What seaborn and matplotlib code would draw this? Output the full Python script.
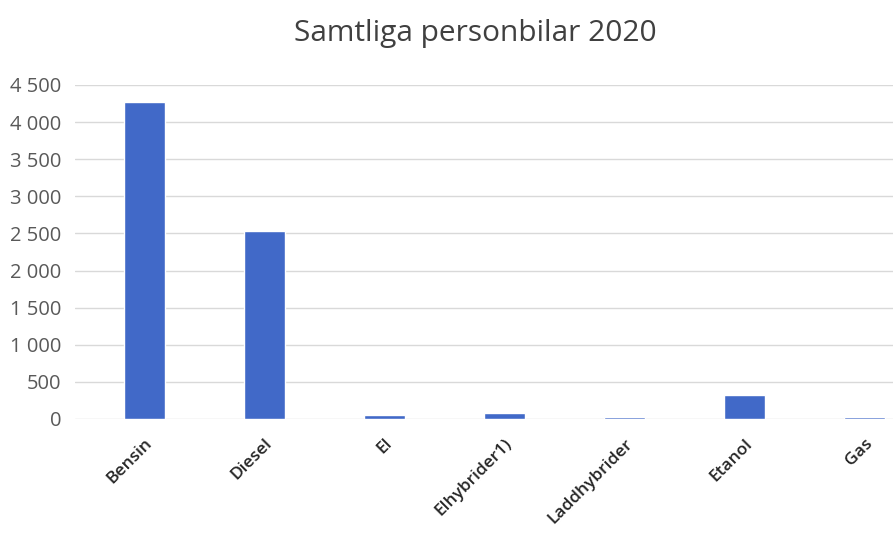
import matplotlib
matplotlib.use("Agg")
import matplotlib.pyplot as plt
import seaborn as sns
import pandas as pd
from matplotlib.ticker import FuncFormatter

categories = ["Bensin", "Diesel", "El", "Elhybrider1)", "Laddhybrider", "Etanol", "Gas"]
values = [4270, 2530, 55, 80, 30, 320, 30]
yticks = [0, 500, 1000, 1500, 2000, 2500, 3000, 3500, 4000, 4500]

df = pd.DataFrame({"cat": categories, "val": values})

sns.set_theme(style="white")
plt.rcParams["font.family"] = ["Open Sans", "DejaVu Sans"]

fig = plt.figure(figsize=(8.93, 5.46), dpi=100)
ax = fig.add_axes([75/893, 1-419/546, 1-75/893, (419-85)/546])

sns.barplot(data=df, x="cat", y="val", color="#4169C8", saturation=1, width=0.34, ax=ax)

ax.set_xlim(-0.58, 6.24)
ax.set_ylim(0, 4500)
ax.set_yticks(yticks)
ax.yaxis.set_major_formatter(FuncFormatter(lambda v, p: f"{int(v):,}".replace(",", " ")))
ax.grid(axis="y", color="#d9d9d9", linewidth=1)
ax.set_axisbelow(True)
for s in ax.spines.values():
    s.set_visible(False)
ax.set_xlabel("")
ax.set_ylabel("")
ax.tick_params(axis="y", labelsize=14.5, colors="#595959", pad=10, length=0)
ax.tick_params(axis="x", labelsize=12.5, colors="#262626", length=0, pad=12)
for lbl in ax.get_xticklabels():
    lbl.set_rotation(45)
    lbl.set_ha("right")
    lbl.set_rotation_mode("anchor")
    lbl.set_fontweight("semibold")
    lbl.set_x(lbl.get_position()[0] + 0.1)
fig.text(0.532, 1-33/546, "Samtliga personbilar 2020", ha="center", va="center", fontsize=21.5, color="#404040")

fig.savefig("out.png", dpi=100)
